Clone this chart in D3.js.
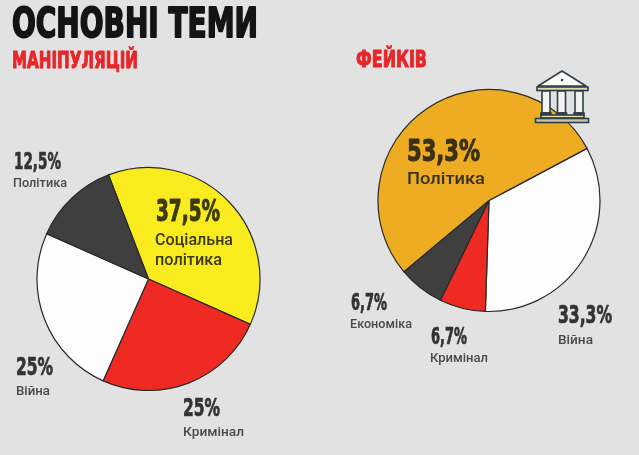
<!DOCTYPE html>
<html>
<head>
<meta charset="utf-8">
<script src="https://cdn.jsdelivr.net/npm/d3@7"></script>
<style>
  html, body { margin: 0; padding: 0; background: #e2e2e2; }
  svg { display: block; filter: blur(0.35px); }
</style>
</head>
<body>
<div id="chart"></div>
<script>
// data
const manipCategories = ["Соціальна політика", "Кримінал", "Війна", "Політика"];
const manipValues = [37.5, 25, 25, 12.5];
const manipColors = ["#f9ec1e", "#ee2a22", "#fdfdfd", "#3f3f40"];

const fakeCategories = ["Війна", "Кримінал", "Економіка", "Політика"];
const fakeValues = [33.3, 6.7, 6.7, 53.3];
const fakeColors = ["#fdfdfd", "#ee2a22", "#3f3f40", "#eeac22"];

let width = 639,
  height = 455,
  narrow = "'Liberation Sans Narrow', 'DejaVu Sans Condensed', sans-serif",
  sans = "Roboto, 'Open Sans', sans-serif";

const svg = d3.select("#chart")
  .append("svg")
  .attr("width", width)
  .attr("height", height)
  .attr("viewBox", [0, 0, width, height])
  .style("background", "#e2e2e2");

// heavy condensed text, stretched to the measured width
function heavy(x, y, str, size, len, fill, sw) {
  svg.append("text")
    .text(str)
    .attr("x", x)
    .attr("y", y)
    .attr("font-family", narrow)
    .attr("font-weight", 700)
    .attr("font-size", size)
    .attr("textLength", len)
    .attr("lengthAdjust", "spacingAndGlyphs")
    .attr("fill", fill)
    .attr("stroke", fill)
    .attr("stroke-width", sw)
    .attr("stroke-linejoin", "round");
}

function plain(x, y, str, size, len, fill) {
  svg.append("text")
    .text(str)
    .attr("x", x)
    .attr("y", y)
    .attr("font-family", sans)
    .attr("font-weight", 500)
    .attr("font-size", size)
    .attr("textLength", len)
    .attr("lengthAdjust", "spacingAndGlyphs")
    .attr("fill", fill);
}

function drawPie(cx, cy, r, values, colors, startDeg) {
  let pie = d3.pie()
    .sort(null)
    .startAngle(startDeg * Math.PI / 180)
    .endAngle((startDeg + 360) * Math.PI / 180);

  let arc = d3.arc()
    .innerRadius(0)
    .outerRadius(r);

  let g = svg.append("g")
    .attr("transform", `translate(${cx},${cy})`);

  g.selectAll("path")
    .data(pie(values))
    .join("path")
    .attr("d", arc)
    .attr("fill", (d, i) => colors[i])
    .attr("stroke", "#2a2a2a")
    .attr("stroke-width", 1.2)
    .attr("stroke-linejoin", "round");
}

drawPie(148.5, 279, 111.5, manipValues, manipColors, -21);
drawPie(489, 200.5, 111, fakeValues, fakeColors, 62);

// titles
heavy(12, 37, "ОСНОВНІ ТЕМИ", 41, 246, "#141414", 1.8);
heavy(12, 68, "МАНІПУЛЯЦІЙ", 23, 126, "#e8262a", 1);
heavy(356, 67, "ФЕЙКІВ", 23, 71, "#e8262a", 1);

// left pie labels
const pct = v => String(v).replace(".", ",") + "%";
const dark = "#333333", grey = "#4a4a4a", olive = "#3d3a12";

heavy(14, 169, pct(manipValues[3]), 23, 47, dark, 0.7);
plain(13, 187, manipCategories[3], 12, 54, grey);

heavy(156, 221, pct(manipValues[0]), 31, 64, olive, 1);
plain(155, 245, "Соціальна", 17, 78, olive);
plain(155, 265, "політика", 17, 67, olive);

heavy(16, 375, pct(manipValues[2]), 25, 37, dark, 0.7);
plain(16, 395, manipCategories[2], 12, 34, grey);

heavy(183, 416, pct(manipValues[1]), 25, 37, dark, 0.7);
plain(183, 436, manipCategories[1], 12.5, 61, grey);

// right pie labels
heavy(407, 161, pct(fakeValues[3]), 31, 73, "#3a3016", 1);
plain(407, 184, fakeCategories[3], 17, 78, "#3a3016");

heavy(351, 310, pct(fakeValues[2]), 23, 36, dark, 0.7);
plain(350, 328, fakeCategories[2], 12, 62, grey);

heavy(431, 344, pct(fakeValues[1]), 23, 36, dark, 0.7);
plain(430, 362, fakeCategories[1], 12.5, 58, grey);

heavy(558, 323, pct(fakeValues[0]), 25, 54, dark, 0.7);
plain(558, 344, fakeCategories[0], 12, 35, grey);

// bank icon over the gold slice
const iconDark = "#2f3f47";
const icon = svg.append("g").attr("stroke", iconDark).attr("stroke-width", 1.6);

icon.append("path")
  .attr("d", "M562,71 L586,86 L538,86 Z")
  .attr("fill", "#fdfdfd")
  .attr("stroke-linejoin", "round");
icon.append("circle")
  .attr("cx", 562).attr("cy", 80).attr("r", 1.3)
  .attr("fill", iconDark).attr("stroke", "none");
icon.append("rect")
  .attr("x", 537).attr("y", 87).attr("width", 51).attr("height", 3.5)
  .attr("fill", "#e8d9a8");
[546, 561.5, 579].forEach(x => {
  icon.append("rect")
    .attr("x", x - 4).attr("y", 91).attr("width", 8).attr("height", 22)
    .attr("fill", "#f2f2f2");
  icon.append("rect")
    .attr("x", x - 5).attr("y", 113).attr("width", 10).attr("height", 2)
    .attr("fill", iconDark);
});
icon.append("rect")
  .attr("x", 541).attr("y", 115).attr("width", 43).attr("height", 3)
  .attr("fill", "#e8d9a8");
icon.append("rect")
  .attr("x", 535.5).attr("y", 118.5).attr("width", 53).attr("height", 4)
  .attr("fill", "#c9c4b0");
</script>
</body>
</html>
